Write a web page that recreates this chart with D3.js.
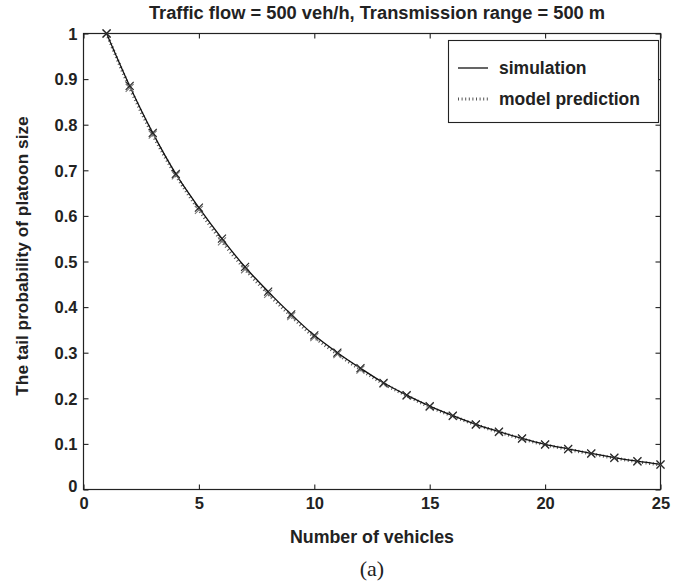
<!DOCTYPE html>
<html>
<head>
<meta charset="utf-8">
<script src="https://cdn.jsdelivr.net/npm/d3@7"></script>
<style>
  body { margin: 0; background: #fff; }
  svg { display: block; }
  .lbl { font-family: "Liberation Sans", Arial, sans-serif; font-weight: bold; fill: #222; }
</style>
</head>
<body>
<svg id="chart" width="683" height="586"></svg>
<script>
// Platoon size (number of vehicles)
const vehicles = [1,2,3,4,5,6,7,8,9,10,11,12,13,14,15,16,17,18,19,20,21,22,23,24,25];
// Tail probability from simulation
const simulation = [1.000,0.885,0.782,0.692,0.618,0.550,0.488,0.434,0.384,0.338,0.300,0.266,0.234,0.207,0.183,0.162,0.143,0.127,0.112,0.099,0.089,0.079,0.070,0.062,0.055];
// Tail probability from the analytical model
const modelPrediction = [1.000,0.881,0.778,0.689,0.613,0.544,0.483,0.429,0.380,0.334,0.297,0.263,0.232,0.206,0.181,0.161,0.142,0.126,0.111,0.098,0.088,0.078,0.069,0.061,0.054];
const xTicks = [0,5,10,15,20,25];
const yTicks = [0,0.1,0.2,0.3,0.4,0.5,0.6,0.7,0.8,0.9,1];
const seriesNames = ["simulation","model prediction"];

const svg = d3.select("#chart");
const pL = 83.5, pR = 660.5, pT = 33.5, pB = 489.5;

const x = d3.scaleLinear().domain([0,25]).range([pL,pR]);
const y = d3.scaleLinear().domain([0,1]).range([pB,pT]);

// Frame
svg.append("rect").attr("x",pL).attr("y",pT).attr("width",pR-pL).attr("height",pB-pT)
  .attr("fill","none").attr("stroke","#222").attr("stroke-width",1.2);

// Inward ticks on all four sides
const tl = 5;
const fmt = d => d3.format("")(d);
const axB = svg.append("g").attr("transform",`translate(0,${pB})`)
  .call(d3.axisBottom(x).tickValues(xTicks).tickSizeInner(-tl).tickSizeOuter(0).tickPadding(8).tickFormat(fmt));
const axT = svg.append("g").attr("transform",`translate(0,${pT})`)
  .call(d3.axisTop(x).tickValues(xTicks).tickSizeInner(-tl).tickSizeOuter(0).tickFormat(""));
const axL = svg.append("g").attr("transform",`translate(${pL},0)`)
  .call(d3.axisLeft(y).tickValues(yTicks).tickSizeInner(-tl).tickSizeOuter(0).tickPadding(6).tickFormat(fmt));
const axR = svg.append("g").attr("transform",`translate(${pR},0)`)
  .call(d3.axisRight(y).tickValues(yTicks).tickSizeInner(-tl).tickSizeOuter(0).tickFormat(""));
[axB,axT,axL,axR].forEach(g => {
  g.select(".domain").remove();
  g.selectAll(".tick line").attr("stroke","#222").attr("stroke-width",1.1);
  g.selectAll(".tick text").attr("class","lbl").attr("font-size",16.5).attr("fill","#222");
});
axL.selectAll(".tick text").attr("dy","0.35em");
axL.selectAll(".tick").filter(d => d === 0).select("text").attr("dy","0.1em");

const line = d3.line().x((d,i) => x(vehicles[i])).y(d => y(d)).curve(d3.curveMonotoneX);

// Model prediction: dotted hatch line
svg.append("path").datum(modelPrediction).attr("d",line)
  .attr("fill","none").attr("stroke","#555").attr("stroke-width",3.2).attr("stroke-dasharray","1,2.6");
// Simulation: solid line
svg.append("path").datum(simulation).attr("d",line)
  .attr("fill","none").attr("stroke","#111").attr("stroke-width",1.3);

// Cross markers
function crosses(vals, color, w) {
  const s = 4;
  svg.append("g").selectAll("path").data(vals).join("path")
    .attr("d",(d,i) => {
      const cx = x(vehicles[i]), cy = y(d);
      return `M${cx-s},${cy-s}L${cx+s},${cy+s}M${cx-s},${cy+s}L${cx+s},${cy-s}`;
    })
    .attr("stroke",color).attr("stroke-width",w).attr("fill","none");
}
crosses(modelPrediction,"#777",1.1);
crosses(simulation,"#222",1.1);

// Title and axis titles
svg.append("text").attr("class","lbl").attr("x",377).attr("y",19)
  .attr("text-anchor","middle").attr("font-size",18.3).text("Traffic flow = 500 veh/h, Transmission range = 500 m");
svg.append("text").attr("class","lbl").attr("x",(pL+pR)/2).attr("y",543)
  .attr("text-anchor","middle").attr("font-size",17.8).text("Number of vehicles");
svg.append("text").attr("class","lbl").attr("transform",`translate(28,256) rotate(-90)`)
  .attr("text-anchor","middle").attr("font-size",17.3).text("The tail probability of platoon size");
svg.append("text").attr("x",(pL+pR)/2).attr("y",576).attr("text-anchor","middle")
  .attr("font-family","'Liberation Serif', 'Times New Roman', serif").attr("font-size",22).attr("fill","#222").text("(a)");

// Legend
const lg = svg.append("g");
lg.append("rect").attr("x",448.5).attr("y",40.5).attr("width",210).attr("height",82)
  .attr("fill","#fff").attr("stroke","#222").attr("stroke-width",1.1);
const legY = [68,99];
lg.append("line").attr("x1",458).attr("x2",488).attr("y1",legY[0]).attr("y2",legY[0])
  .attr("stroke","#111").attr("stroke-width",1.3);
lg.append("line").attr("x1",458).attr("x2",488).attr("y1",legY[1]).attr("y2",legY[1])
  .attr("stroke","#555").attr("stroke-width",3.2).attr("stroke-dasharray","1,2.6");
seriesNames.forEach((n,i) => {
  lg.append("text").attr("class","lbl").attr("x",499).attr("y",legY[i]).attr("dy","0.35em")
    .attr("font-size",17.5).text(n);
});
</script>
</body>
</html>
